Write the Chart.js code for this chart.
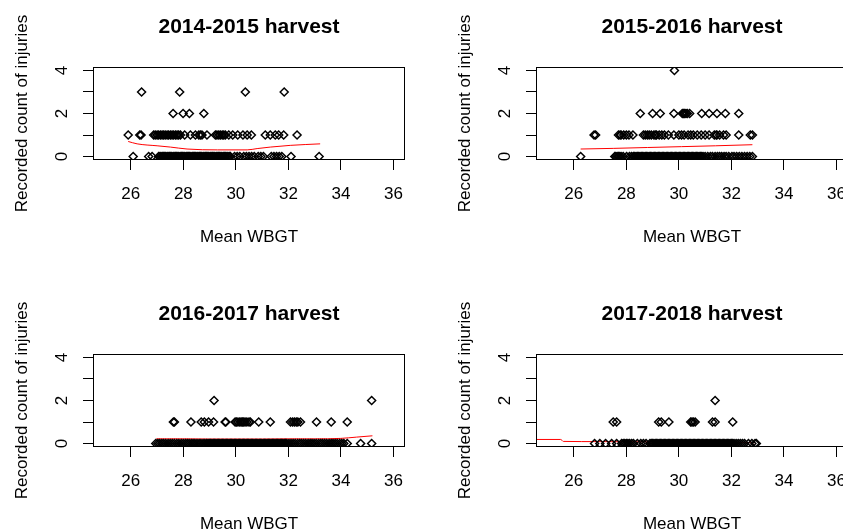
<!DOCTYPE html>
<html>
<head>
<meta charset="utf-8">
<script src="https://cdn.jsdelivr.net/npm/chart.js@4.4.1/dist/chart.umd.min.js"></script>
<style>
  body { margin: 0; background: #fff; overflow: hidden; width: 843px; height: 530px; position: relative; }
  .panel { position: absolute; width: 443px; height: 287px; }
</style>
</head>
<body>
<div class="panel" style="left:0;top:0"><canvas id="c1" width="443" height="287"></canvas></div>
<div class="panel" style="left:443px;top:0"><canvas id="c2" width="443" height="287"></canvas></div>
<div class="panel" style="left:0;top:287px"><canvas id="c3" width="443" height="287"></canvas></div>
<div class="panel" style="left:443px;top:287px"><canvas id="c4" width="443" height="287"></canvas></div>
<script>
// axes
const xTicks = [26, 28, 30, 32, 34, 36];
const yTicks = [0, 1, 2, 3, 4];
const yTickLabels = ['0', '', '2', '', '4'];
const xTitle = 'Mean WBGT';
const yTitle = 'Recorded count of injuries';
const titles = ['2014-2015 harvest', '2015-2016 harvest', '2016-2017 harvest', '2017-2018 harvest'];

// 2014-2015: Mean WBGT of days, by recorded injury count
const p1Zero = [26.09, 26.68, 26.81,
  27.06, 27.11, 27.15, 27.2, 27.24, 27.29, 27.33, 27.38, 27.42, 27.47, 27.52, 27.56, 27.61, 27.65, 27.7, 27.74,
  27.79, 27.83, 27.88, 27.93, 27.97, 28.02, 28.06, 28.11, 28.15, 28.2, 28.24, 28.29, 28.34, 28.38, 28.43, 28.47,
  28.52, 28.56, 28.61, 28.65, 28.7, 28.75, 28.79, 28.84, 28.88, 28.93, 28.97, 29.02, 29.06, 29.11, 29.16, 29.2,
  29.25, 29.29, 29.34, 29.38, 29.43, 29.47, 29.52, 29.57, 29.61, 29.66, 29.7, 29.75, 29.79,
  29.95, 30.05, 30.15, 30.3, 30.4, 30.5, 30.6, 30.7, 30.85, 30.95, 31.05,
  31.35, 31.45, 31.55, 31.65, 31.75, 32.10, 33.17];
const p1One = [25.90, 26.34, 26.39, 26.87, 26.93, 27.00, 27.06, 27.13, 27.19, 27.25, 27.31, 27.38, 27.44, 27.51,
  27.57, 27.63, 27.70, 27.76, 27.82, 27.89, 28.05, 28.27, 28.46, 28.59, 28.65, 28.71, 28.90, 29.22, 29.28, 29.35,
  29.41, 29.48, 29.54, 29.60, 29.73, 29.88, 30.07, 30.27, 30.43, 30.59, 31.12, 31.31, 31.50, 31.63, 31.82, 32.33];
const p1Two = [27.61, 27.99, 28.23, 28.78];
const p1Three = [26.41, 27.86, 30.36, 31.84];
const p1CurveX = [25.90, 26.24, 27.0, 27.51, 28.14, 29.3, 30.43, 30.81, 31.31, 32.07, 33.21];
const p1CurveY = [0.70, 0.59, 0.50, 0.44, 0.35, 0.31, 0.31, 0.37, 0.44, 0.52, 0.59];

// 2015-2016
const p2Zero = [26.26, 27.56, 27.6, 27.65, 27.7, 27.75, 27.8, 27.88, 28.01, 28.12, 28.2,
  28.27, 28.32, 28.37, 28.42, 28.47, 28.52, 28.57, 28.62, 28.67, 28.72, 28.77, 28.82, 28.87, 28.92, 28.97, 29.02,
  29.07, 29.12, 29.17, 29.22, 29.27, 29.32, 29.37, 29.42, 29.47, 29.52, 29.57, 29.62, 29.67, 29.72, 29.77, 29.82,
  29.87, 29.92, 29.97, 30.02, 30.07, 30.12, 30.17, 30.22, 30.27, 30.32, 30.37, 30.42, 30.47, 30.52, 30.57, 30.62,
  30.67, 30.72, 30.77, 30.82, 30.87, 30.92,
  31.0, 31.1, 31.2, 31.28, 31.38, 31.47, 31.55, 31.63, 31.72, 31.8, 31.9, 32.02, 32.1, 32.2, 32.3, 32.4, 32.5,
  32.6, 32.7, 32.8];
const p2One = [26.77, 26.83, 27.7, 27.76, 27.8, 27.9, 28.0, 28.1, 28.25, 28.65, 28.72, 28.8, 28.87, 28.95, 29.05,
  29.1, 29.15, 29.25, 29.35, 29.45, 29.6, 29.81, 30.0, 30.1, 30.2, 30.35, 30.45, 30.55, 30.7, 30.85, 31.0, 31.15,
  31.35, 31.42, 31.45, 31.55, 31.7, 31.8, 32.28, 32.72, 32.8];
const p2Two = [28.53, 29.0, 29.29, 29.81, 30.13, 30.18, 30.22, 30.27, 30.32, 30.41, 30.87, 31.15, 31.45, 31.77, 32.28];
const p2Four = [29.83];
const p2CurveX = [26.26, 27.5, 28.8, 30.1, 31.4, 32.8];
const p2CurveY = [0.35, 0.38, 0.42, 0.46, 0.50, 0.55];

// 2016-2017
const p3Zero = [26.95, 27.03, 27.1, 27.18, 27.25, 27.33, 27.42, 27.5, 27.58, 27.66, 27.75, 27.83, 27.92, 28.0, 28.08,
  28.15, 28.22, 28.3, 28.37, 28.44, 28.52, 28.6, 28.67, 28.75, 28.82,
  28.89, 28.94, 28.99, 29.04, 29.09, 29.14, 29.19, 29.24, 29.29, 29.34, 29.39, 29.44, 29.49, 29.54, 29.59, 29.64,
  29.69, 29.74, 29.79, 29.84, 29.89, 29.94, 29.99, 30.04, 30.09, 30.14, 30.19, 30.24, 30.29, 30.34, 30.39, 30.44,
  30.49, 30.54, 30.59, 30.64, 30.69, 30.74, 30.79, 30.84, 30.89, 30.94, 30.99, 31.04, 31.09, 31.14, 31.19, 31.24,
  31.29, 31.34, 31.39, 31.44, 31.49, 31.54, 31.59, 31.64, 31.69, 31.74, 31.79, 31.84, 31.89, 31.94,
  32.02, 32.1, 32.18, 32.26, 32.35, 32.43, 32.5, 32.58, 32.66, 32.75, 32.83, 32.9, 32.98, 33.06, 33.15, 33.23,
  33.3, 33.38, 33.46, 33.55, 33.63, 33.7, 33.78, 33.86, 33.95, 34.03, 34.11, 34.24, 34.75, 35.17];
const p3One = [27.62, 27.66, 28.29, 28.68, 28.8, 28.96, 29.15, 29.59, 29.62, 29.97, 30.02, 30.08, 30.15, 30.2, 30.25,
  30.3, 30.35, 30.42, 30.5, 30.55, 30.87, 31.31, 32.08, 32.16, 32.23, 32.3, 32.36, 32.46, 33.07, 33.63, 34.24];
const p3Two = [29.17, 35.17];
const p3CurveX = [26.97, 28.0, 29.0, 30.0, 31.0, 32.0, 33.0, 34.0, 34.6, 35.2];
const p3CurveY = [0.22, 0.22, 0.21, 0.21, 0.21, 0.22, 0.22, 0.24, 0.30, 0.36];

// 2017-2018
const p4Zero = [26.79, 26.99, 27.21, 27.44, 27.63, 27.82, 27.88, 27.94, 28.0, 28.06, 28.12, 28.2, 28.27, 28.42,
  28.55, 28.65, 28.75,
  28.9, 28.95, 29.0, 29.05, 29.1, 29.15, 29.2, 29.25, 29.3, 29.35, 29.4, 29.45, 29.5, 29.55, 29.6, 29.65, 29.7,
  29.75, 29.8, 29.85, 29.9, 29.95, 30.0, 30.05, 30.1, 30.15, 30.2, 30.25, 30.3, 30.35, 30.4, 30.45, 30.5, 30.55,
  30.6, 30.65, 30.7, 30.75, 30.8, 30.85, 30.9, 30.95, 31.0, 31.05, 31.1, 31.15, 31.2, 31.25, 31.3, 31.35, 31.4,
  31.45, 31.5, 31.55, 31.6, 31.65, 31.7, 31.75, 31.8, 31.85, 31.9, 31.95, 32.0, 32.05,
  32.1, 32.18, 32.26, 32.34, 32.42, 32.5, 32.65, 32.78, 32.9, 32.95];
const p4One = [27.5, 27.63, 29.23, 29.33, 29.62, 30.45, 30.5, 30.55, 30.62, 31.28, 31.38, 32.05];
const p4Two = [31.38];
const p4CurveX = [24.4, 25.5, 25.6, 27.0, 28.5, 30.0, 31.5, 32.9];
const p4CurveY = [0.19, 0.19, 0.10, 0.09, 0.08, 0.07, 0.05, 0.04];

const FONT = '"Liberation Sans", Arial, sans-serif';

const at = (xs, y) => xs.map(x => ({ x, y }));
const curve = (xs, ys) => xs.map((x, i) => ({ x, y: ys[i] }));

// R-style frame, main title, axis titles and sideways y labels
const rFrame = {
  id: 'rFrame',
  afterDraw(chart, args, opts) {
    const { ctx, chartArea: a, scales: { y } } = chart;
    ctx.save();
    ctx.strokeStyle = '#000';
    ctx.lineWidth = 1;
    ctx.strokeRect(Math.round(a.left) + 0.5, Math.round(a.top) + 0.5,
      Math.round(a.right - a.left) - 1, Math.round(a.bottom - a.top) - 1);

    ctx.fillStyle = '#000';
    ctx.textAlign = 'center';
    ctx.textBaseline = 'middle';
    const cx = (a.left + a.right) / 2;
    ctx.font = 'bold 21px ' + FONT;
    ctx.fillText(opts.title, cx, 27.5);
    ctx.font = '17px ' + FONT;
    ctx.fillText(xTitle, cx, 237);

    yTicks.forEach((v, i) => {
      if (!yTickLabels[i]) return;
      ctx.save();
      ctx.translate(62.5, y.getPixelForValue(v));
      ctx.rotate(-Math.PI / 2);
      ctx.fillText(yTickLabels[i], 0, 0);
      ctx.restore();
    });

    ctx.translate(22, (a.top + a.bottom) / 2);
    ctx.rotate(-Math.PI / 2);
    ctx.fillText(yTitle, 0, 0);
    ctx.restore();
  }
};

function makePanel(id, title, points, line) {
  return new Chart(document.getElementById(id), {
    type: 'scatter',
    data: {
      datasets: [{
        data: points,
        pointStyle: 'rectRot',
        pointRadius: 4,
        borderColor: '#000',
        backgroundColor: 'rgba(0,0,0,0)',
        borderWidth: 1.5
      }, {
        type: 'line',
        data: line,
        borderColor: '#ff0000',
        borderWidth: 1,
        pointRadius: 0,
        fill: false,
        cubicInterpolationMode: 'monotone',
        clip: 0
      }]
    },
    options: {
      responsive: false,
      animation: false,
      events: [],
      layout: { padding: { left: 0, right: 38, top: 67, bottom: 0 } },
      plugins: {
        legend: { display: false },
        tooltip: { enabled: false },
        rFrame: { title }
      },
      scales: {
        x: {
          type: 'linear',
          min: 24.56,
          max: 36.44,
          afterBuildTicks: s => { s.ticks = xTicks.map(v => ({ value: v })); },
          afterFit: s => { s.height = 127; },
          ticks: { font: { family: FONT, size: 17 }, color: '#000', padding: 14, maxRotation: 0, autoSkip: false },
          grid: { drawOnChartArea: false, drawTicks: true, tickLength: 10, color: '#000', lineWidth: 1 },
          border: { display: false }
        },
        y: {
          type: 'linear',
          min: -0.16,
          max: 4.16,
          afterBuildTicks: s => { s.ticks = yTicks.map(v => ({ value: v })); },
          afterFit: s => { s.width = 93; },
          ticks: { display: false },
          grid: { drawOnChartArea: false, drawTicks: true, tickLength: 10, color: '#000', lineWidth: 1 },
          border: { display: false }
        }
      }
    },
    plugins: [rFrame]
  });
}

makePanel('c1', titles[0],
  [...at(p1Zero, 0), ...at(p1One, 1), ...at(p1Two, 2), ...at(p1Three, 3)],
  curve(p1CurveX, p1CurveY));
makePanel('c2', titles[1],
  [...at(p2Zero, 0), ...at(p2One, 1), ...at(p2Two, 2), ...at(p2Four, 4)],
  curve(p2CurveX, p2CurveY));
makePanel('c3', titles[2],
  [...at(p3Zero, 0), ...at(p3One, 1), ...at(p3Two, 2)],
  curve(p3CurveX, p3CurveY));
makePanel('c4', titles[3],
  [...at(p4Zero, 0), ...at(p4One, 1), ...at(p4Two, 2)],
  curve(p4CurveX, p4CurveY));
</script>
</body>
</html>
